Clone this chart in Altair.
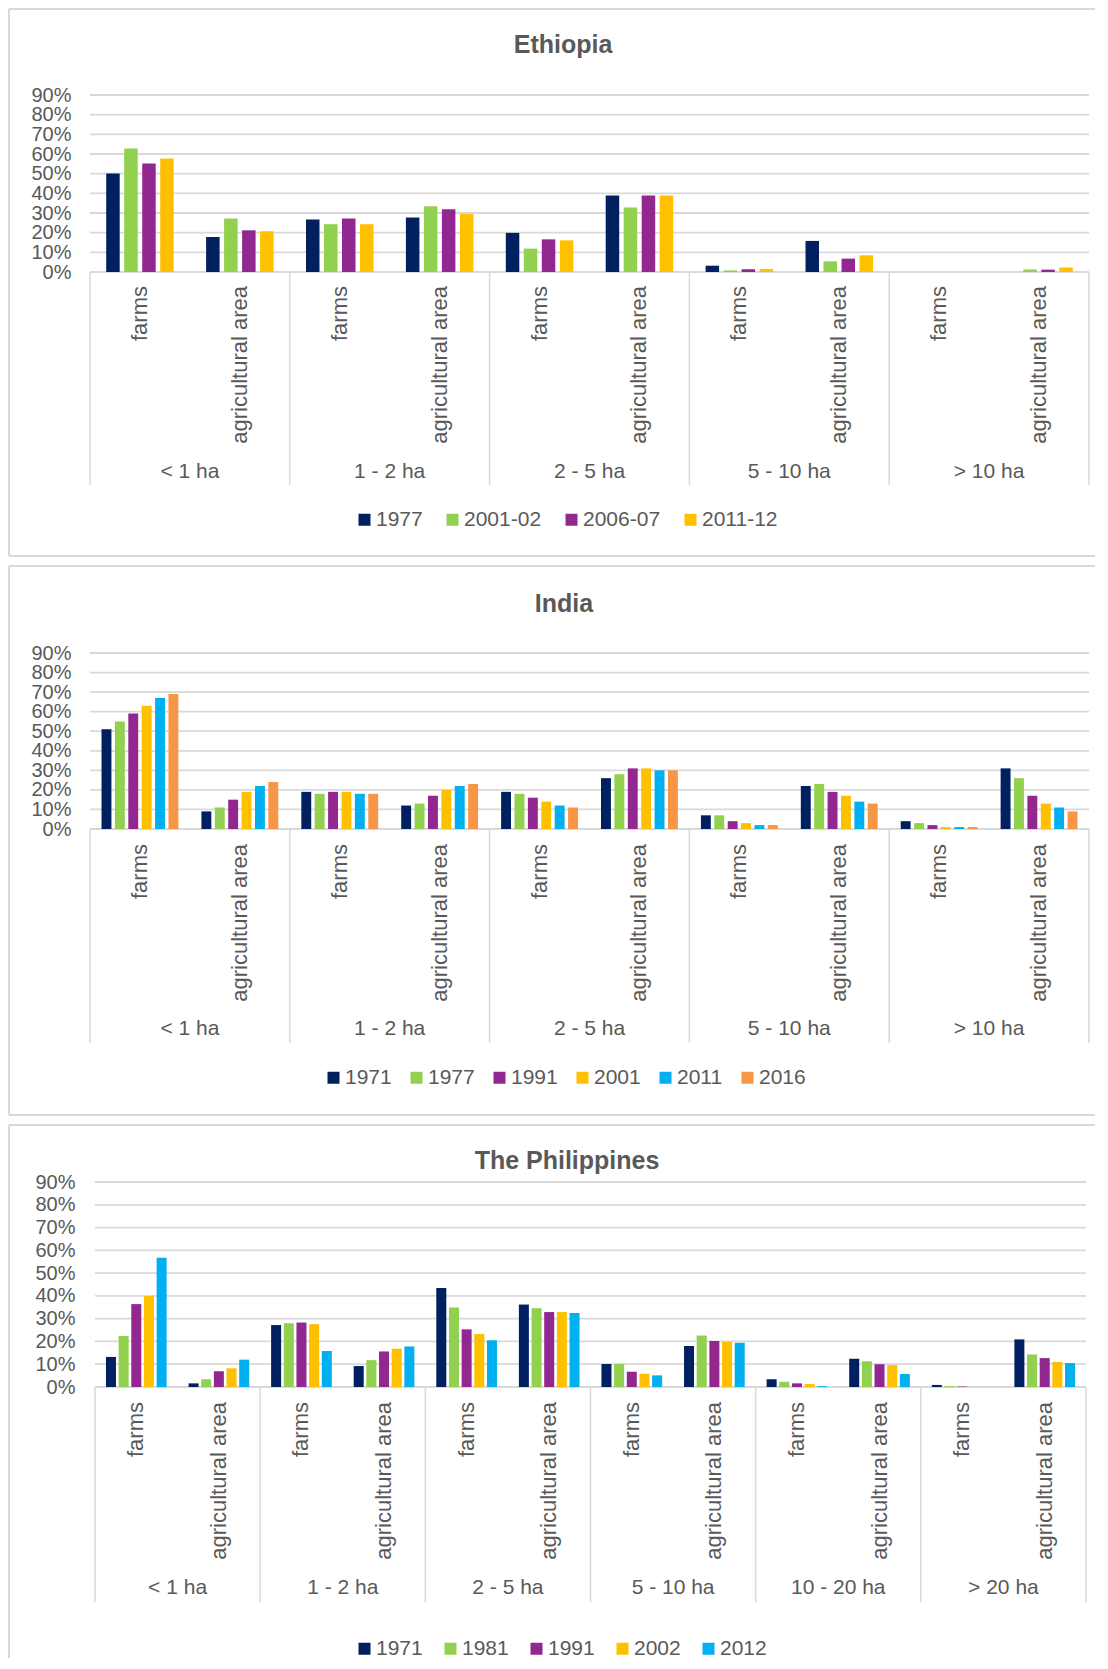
import altair as alt
import pandas as pd

FONT = "Liberation Sans"
TEXT = "#595959"
GRID = "#d9d9d9"

SUBS = ["farms", "agricultural area"]

# ---------------- Ethiopia ----------------
ETH_GROUPS = ["< 1 ha", "1 - 2 ha", "2 - 5 ha", "5 - 10 ha", "> 10 ha"]
ETH_YEARS = ["1977", "2001-02", "2006-07", "2011-12"]
ETH_1977 = [50.1, 17.8, 26.7, 27.7, 19.9, 38.9, 3.2, 15.8, 0, 0]
ETH_2001 = [62.8, 27.2, 24.3, 33.4, 11.9, 32.8, 0.8, 5.4, 0, 1.3]
ETH_2006 = [55.2, 21.2, 27.2, 31.9, 16.6, 38.9, 1.4, 6.8, 0, 1.2]
ETH_2011 = [57.7, 20.7, 24.3, 29.5, 16.1, 38.9, 1.5, 8.5, 0, 2.3]
ETH_COLORS = ["#002060", "#92D050", "#92278F", "#FFC000"]

# ---------------- India ----------------
IND_GROUPS = ["< 1 ha", "1 - 2 ha", "2 - 5 ha", "5 - 10 ha", "> 10 ha"]
IND_YEARS = ["1971", "1977", "1991", "2001", "2011", "2016"]
IND_1971 = [51, 9, 19, 12, 19, 26, 7, 22, 4, 31]
IND_1977 = [55, 11, 18, 13, 18, 28, 7, 23, 3, 26]
IND_1991 = [59, 15, 19, 17, 16, 31, 4, 19, 2, 17]
IND_2001 = [63, 19, 19, 20, 14, 31, 3, 17, 1, 13]
IND_2011 = [67, 22, 18, 22, 12, 30, 2, 14, 1, 11]
IND_2016 = [69, 24, 18, 23, 11, 30, 2, 13, 1, 9]
IND_COLORS = ["#002060", "#92D050", "#92278F", "#FFC000", "#00B0F0", "#F79646"]

# ---------------- Philippines ----------------
PHL_GROUPS = ["< 1 ha", "1 - 2 ha", "2 - 5 ha", "5 - 10 ha", "10 - 20 ha", "> 20 ha"]
PHL_YEARS = ["1971", "1981", "1991", "2002", "2012"]
PHL_1971 = [13.2, 1.6, 27.2, 9.2, 43.5, 36.2, 10.1, 18.0, 3.4, 12.4, 0.9, 20.9]
PHL_1981 = [22.4, 3.4, 28.0, 11.8, 34.9, 34.6, 10.1, 22.6, 2.3, 11.3, 0.4, 14.3]
PHL_1991 = [36.4, 6.9, 28.3, 15.6, 25.3, 32.9, 6.7, 20.2, 1.6, 10.0, 0.2, 12.7]
PHL_2002 = [39.9, 8.2, 27.6, 16.8, 23.3, 32.9, 5.8, 19.9, 1.3, 9.6, 0, 11.0]
PHL_2012 = [56.7, 12.0, 15.8, 17.8, 20.5, 32.5, 5.1, 19.4, 0.4, 5.7, 0, 10.5]
PHL_COLORS = ["#002060", "#92D050", "#92278F", "#FFC000", "#00B0F0"]

Y_TICKS = [0, 0.1, 0.2, 0.3, 0.4, 0.5, 0.6, 0.7, 0.8, 0.9]


def build_df(groups, years, series):
    rows = []
    for yr, vals in zip(years, series):
        for i, v in enumerate(vals):
            g = groups[i // 2]
            s = SUBS[i % 2]
            rows.append({"key": g + "|" + s, "group": g, "sub": s,
                         "year": yr, "value": v / 100.0})
    return pd.DataFrame(rows)


def panel(title, groups, years, series, colors, W, H, pi, po, label_pad,
          title_x, title_y, leg_x, leg_y, col_pad, sub_y, grp_y, sep_y2,
          bx1, bx2, by1, by2, x0=0, draw_bottom=True):
    df = build_df(groups, years, series)
    keys = [g + "|" + s for g in groups for s in SUBS]
    n = len(keys)
    # shift the category bands right by x0 px inside the plot area
    step = (W - x0) / n
    pad_out = x0 / (2.0 * step) if x0 else 0
    xs = alt.Scale(type="band", domain=keys, paddingInner=0,
                   paddingOuter=pad_out, align=1)
    ys = alt.Scale(domain=[0, 0.9], nice=False, zero=True)
    yax = alt.Axis(values=Y_TICKS, format=".0%", title=None, grid=False,
                   ticks=False, domain=False, labelPadding=label_pad,
                   labelFontSize=20, labelFont=FONT, labelColor=TEXT,
                   labelOverlap=False, labelBound=False)

    grid_df = pd.DataFrame({"value": Y_TICKS})
    grid = alt.Chart(grid_df).mark_rule(color=GRID, strokeWidth=1.8).encode(
        y=alt.Y("value:Q", scale=ys, axis=yax, title=None),
        x=alt.value(x0), x2=alt.value(W))

    bars = alt.Chart(df).mark_bar().encode(
        x=alt.X("key:N", scale=xs, axis=None, sort=keys),
        xOffset=alt.XOffset("year:N", sort=years,
                            scale=alt.Scale(domain=years, paddingInner=pi, paddingOuter=po)),
        y=alt.Y("value:Q", scale=ys, axis=yax, title=None),
        color=alt.Color("year:N", sort=years,
                        scale=alt.Scale(domain=years, range=colors),
                        legend=alt.Legend(title=None, orient="none", legendX=leg_x,
                                          legendY=leg_y, direction="horizontal",
                                          symbolType="square", symbolSize=144,
                                          symbolStrokeWidth=0, labelFontSize=21,
                                          labelFont=FONT, labelColor=TEXT,
                                          labelOffset=1, columnPadding=col_pad,
                                          padding=0)),
    )

    sub_df = pd.DataFrame({"key": keys, "sub": [k.split("|")[1] for k in keys]})
    sub_labels = alt.Chart(sub_df).mark_text(
        angle=270, align="right", baseline="middle", font=FONT, fontSize=22,
        color=TEXT).encode(
        x=alt.X("key:N", scale=xs, axis=None),
        y=alt.value(sub_y),
        text="sub:N")

    grp_df = pd.DataFrame({"key": [g + "|" + SUBS[0] for g in groups], "group": groups})
    grp_labels = alt.Chart(grp_df).mark_text(
        align="center", baseline="middle", font=FONT, fontSize=21,
        color=TEXT).encode(
        x=alt.X("key:N", scale=xs, axis=None, bandPosition=1),
        y=alt.value(grp_y),
        text="group:N")

    sep_left = alt.Chart(grp_df).mark_rule(color=GRID, strokeWidth=1.5).encode(
        x=alt.X("key:N", scale=xs, axis=None, bandPosition=0),
        y=alt.value(H), y2=alt.value(sep_y2))
    end_df = pd.DataFrame({"key": [keys[-1]]})
    sep_right = alt.Chart(end_df).mark_rule(color=GRID, strokeWidth=1.5).encode(
        x=alt.X("key:N", scale=xs, axis=None, bandPosition=1),
        y=alt.value(H), y2=alt.value(sep_y2))

    title_df = pd.DataFrame({"t": [title]})
    title_mark = alt.Chart(title_df).mark_text(
        align="center", baseline="alphabetic", font=FONT, fontSize=25,
        fontWeight="bold", color=TEXT).encode(
        x=alt.value(title_x), y=alt.value(title_y), text="t:N")

    one = pd.DataFrame({"a": [0]})
    b_left = alt.Chart(one).mark_rule(color=GRID, strokeWidth=2).encode(
        x=alt.value(bx1), y=alt.value(by1), y2=alt.value(by2))
    b_top = alt.Chart(one).mark_rule(color=GRID, strokeWidth=2).encode(
        x=alt.value(bx1), x2=alt.value(bx2), y=alt.value(by1))
    layers = [b_left, b_top]
    if draw_bottom:
        b_bot = alt.Chart(one).mark_rule(color=GRID, strokeWidth=2).encode(
            x=alt.value(bx1), x2=alt.value(bx2), y=alt.value(by2))
        layers.append(b_bot)

    return alt.layer(grid, bars, sep_left, sep_right, sub_labels, grp_labels,
                     title_mark, *layers).properties(width=W, height=H)


p1 = panel("Ethiopia", ETH_GROUPS, ETH_YEARS,
           [ETH_1977, ETH_2001, ETH_2006, ETH_2011], ETH_COLORS,
           W=999, H=177, pi=0.25, po=0.9, label_pad=19,
           title_x=473, title_y=-42, leg_x=264, leg_y=414, col_pad=19,
           sub_y=191, grp_y=377, sep_y2=390,
           bx1=-81, bx2=1005, by1=-86, by2=461)

p2 = panel("India", IND_GROUPS, IND_YEARS,
           [IND_1971, IND_1977, IND_1991, IND_2001, IND_2011, IND_2016], IND_COLORS,
           W=999, H=176, pi=0.26, po=0.86, label_pad=19,
           title_x=474, title_y=-41, leg_x=233, leg_y=414, col_pad=14,
           sub_y=191, grp_y=376, sep_y2=390,
           bx1=-81, bx2=1005, by1=-87, by2=462)

p3 = panel("The Philippines", PHL_GROUPS, PHL_YEARS,
           [PHL_1971, PHL_1981, PHL_1991, PHL_2002, PHL_2012], PHL_COLORS,
           W=996, H=205, pi=0.21, po=0.865, label_pad=15,
           title_x=477, title_y=-13, leg_x=264, leg_y=456, col_pad=17,
           sub_y=220, grp_y=406, sep_y2=420,
           bx1=-81, bx2=1005, by1=-57, by2=476, x0=5, draw_bottom=False)

chart = alt.vconcat(p1, p2, p3, spacing=8).resolve_scale(
    color="independent", x="independent", y="independent", xOffset="independent"
).resolve_legend(color="independent").properties(
    padding={"left": 0, "top": 0, "right": 0, "bottom": 0}
).configure_view(stroke=None)

chart.save("out.html", embed_options={"renderer": "svg", "actions": False})
